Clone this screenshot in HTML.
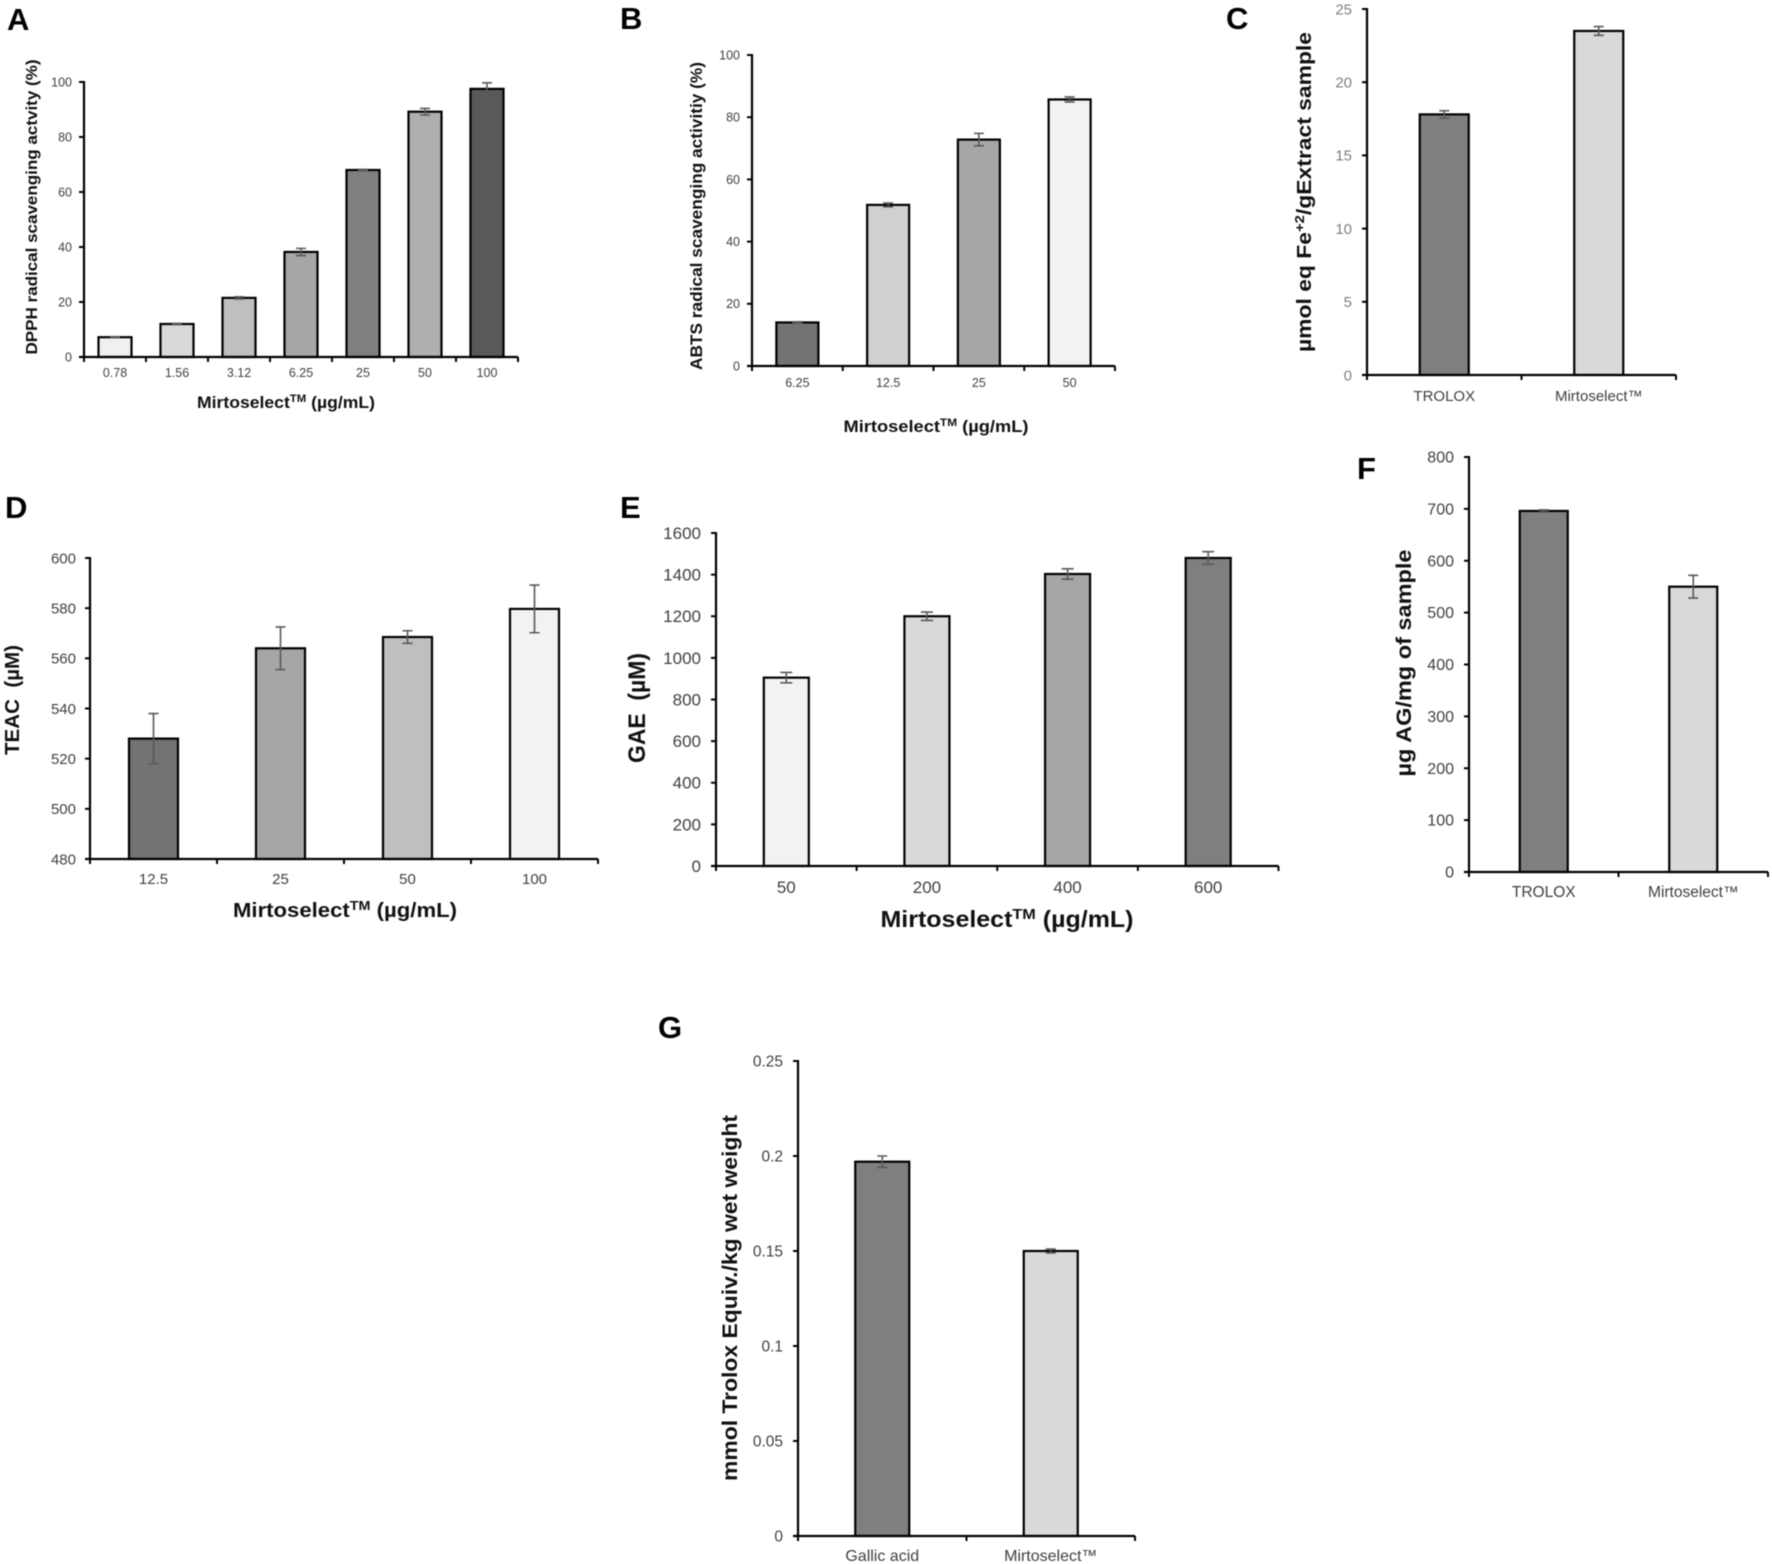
<!DOCTYPE html>
<html lang="en">
<head>
<meta charset="utf-8">
<title>Mirtoselect antioxidant assays</title>
<style>
html,body{margin:0;padding:0;background:#fff;width:1772px;height:1564px;overflow:hidden}
svg{display:block;font-family:"Liberation Sans",sans-serif;filter:blur(0.4px)}
</style>
</head>
<body>
<svg id="figure" xmlns="http://www.w3.org/2000/svg" width="1772" height="1564" viewBox="0 0 1772 1564"></svg>
<script>
// ---- Data ----
const aCategories = ['0.78', '1.56', '3.12', '6.25', '25', '50', '100'];
const aValues = [7.2, 12, 21.5, 38.2, 68, 89.2, 97.5];
const aErrors = [0.2, 0.2, 0.4, 1.3, 0.2, 1.2, 2.2];
const aTicks = [0, 20, 40, 60, 80, 100];
const aTickLabels = ['0', '20', '40', '60', '80', '100'];

const bCategories = ['6.25', '12.5', '25', '50'];
const bValues = [14, 51.8, 72.8, 85.7];
const bErrors = [0.2, 0.6, 2, 0.8];
const bTicks = [0, 20, 40, 60, 80, 100];
const bTickLabels = ['0', '20', '40', '60', '80', '100'];

const cCategories = ['TROLOX', 'Mirtoselect\u2122'];
const cValues = [17.8, 23.5];
const cErrors = [0.25, 0.3];
const cTicks = [0, 5, 10, 15, 20, 25];
const cTickLabels = ['0', '5', '10', '15', '20', '25'];

const dCategories = ['12.5', '25', '50', '100'];
const dValues = [528, 564, 568.5, 579.7];
const dErrors = [10, 8.5, 2.5, 9.5];
const dTicks = [480, 500, 520, 540, 560, 580, 600];
const dTickLabels = ['480', '500', '520', '540', '560', '580', '600'];

const eCategories = ['50', '200', '400', '600'];
const eValues = [905, 1200, 1403, 1480];
const eErrors = [25, 20, 25, 30];
const eTicks = [0, 200, 400, 600, 800, 1000, 1200, 1400, 1600];
const eTickLabels = ['0', '200', '400', '600', '800', '1000', '1200', '1400', '1600'];

const fCategories = ['TROLOX', 'Mirtoselect\u2122'];
const fValues = [696, 550];
const fErrors = [2, 22];
const fTicks = [0, 100, 200, 300, 400, 500, 600, 700, 800];
const fTickLabels = ['0', '100', '200', '300', '400', '500', '600', '700', '800'];

const gCategories = ['Gallic acid', 'Mirtoselect\u2122'];
const gValues = [0.197, 0.15];
const gErrors = [0.003, 0.001];
const gTicks = [0, 0.05, 0.1, 0.15, 0.2, 0.25];
const gTickLabels = ['0', '0.05', '0.1', '0.15', '0.2', '0.25'];

// ---- Layout and styling ----
const panels = [
  {id:'a', cats:aCategories, vals:aValues, errs:aErrors, ticks:aTicks, labels:aTickLabels,
   fills:['#f0f0f0','#d9d9d9','#bfbfbf','#a6a6a6','#7f7f7f','#afafaf','#595959'],
   x0:84, x1:518, y0:357, yT:82, barW:33, cap:5, tickFs:12.5, tickColor:'#404040', xLabY:377, gap:12,
   letter:'A', lx:7, ly:30,
   yTitle:'DPPH radical scavenging actvity (%)', ytx:37, ytc:207, ytl:295, ytf:16,
   xTitle:true, xtc:286, xty:408, xtl:178, xtf:17},
  {id:'b', cats:bCategories, vals:bValues, errs:bErrors, ticks:bTicks, labels:bTickLabels,
   fills:['#737373','#d0d0d0','#a6a6a6','#f2f2f2'],
   x0:752, x1:1115, y0:366, yT:55, barW:42, cap:5, tickFs:12.5, tickColor:'#404040', xLabY:387, gap:12,
   letter:'B', lx:620, ly:29,
   yTitle:'ABTS radical scavenging activitiy (%)', ytx:702, ytc:216, ytl:308, ytf:17,
   xTitle:true, xtc:936, xty:432, xtl:185, xtf:17},
  {id:'c', cats:cCategories, vals:cValues, errs:cErrors, ticks:cTicks, labels:cTickLabels,
   fills:['#7f7f7f','#d9d9d9'],
   x0:1367, x1:1676, y0:375, yT:9, barW:49, cap:5, tickFs:15, tickColor:'#7f7f7f', xLabFs:15, xLabColor:'#404040', xLabY:401, gap:15,
   letter:'C', lx:1226, ly:29,
   yTitle:'\u00b5mol eq Fe', yTitleSup:'+2', yTitleEnd:'/gExtract sample', ytx:1311, ytc:192, ytl:320, ytf:20},
  {id:'d', cats:dCategories, vals:dValues, errs:dErrors, ticks:dTicks, labels:dTickLabels,
   fills:['#737373','#a6a6a6','#bfbfbf','#f2f2f2'],
   x0:90, x1:598, y0:859, yT:558, barW:49, cap:5, tickFs:15, tickColor:'#404040', xLabY:884, gap:14,
   letter:'D', lx:5, ly:518,
   yTitle:'TEAC  (\u00b5M)', ytx:19, ytc:700, ytl:110, ytf:20,
   xTitle:true, xtc:345, xty:917, xtl:224, xtf:20},
  {id:'e', cats:eCategories, vals:eValues, errs:eErrors, ticks:eTicks, labels:eTickLabels,
   fills:['#f2f2f2','#d9d9d9','#a6a6a6','#7f7f7f'],
   x0:716, x1:1278.5, y0:866, yT:533, barW:45, cap:6, tickFs:17, tickColor:'#404040', xLabY:893, gap:15,
   letter:'E', lx:620, ly:518,
   yTitle:'GAE  (\u00b5M)', ytx:645, ytc:708, ytl:110, ytf:24,
   xTitle:true, xtc:1007, xty:927, xtl:253, xtf:23},
  {id:'f', cats:fCategories, vals:fValues, errs:fErrors, ticks:fTicks, labels:fTickLabels,
   fills:['#7f7f7f','#d9d9d9'],
   x0:1469, x1:1768, y0:872, yT:457, barW:48, cap:5, tickFs:16, tickColor:'#404040', xLabFs:15.5, xLabY:897, gap:15,
   letter:'F', lx:1357, ly:479,
   yTitle:'\u00b5g AG/mg of sample', ytx:1411, ytc:663, ytl:227, ytf:21},
  {id:'g', cats:gCategories, vals:gValues, errs:gErrors, ticks:gTicks, labels:gTickLabels,
   fills:['#7f7f7f','#d9d9d9'],
   x0:798, x1:1135, y0:1536, yT:1061, barW:54, cap:5, tickFs:15.5, tickColor:'#404040', xLabFs:16, xLabY:1561, gap:15,
   letter:'G', lx:658, ly:1038,
   yTitle:'mmol Trolox Equiv./kg wet weight', ytx:737, ytc:1298, ytl:366, ytf:21}
];

const NS = 'http://www.w3.org/2000/svg';
const svg = document.getElementById('figure');

function mk(tag, attrs, parent) {
  const el = document.createElementNS(NS, tag);
  for (const k in attrs) el.setAttribute(k, attrs[k]);
  parent.appendChild(el);
  return el;
}
function xScale(p, i) { return p.x0 + (i + 0.5) * (p.x1 - p.x0) / p.cats.length; }
function yScale(p, v) {
  const lo = p.ticks[0], hi = p.ticks[p.ticks.length - 1];
  return p.y0 - (v - lo) / (hi - lo) * (p.y0 - p.yT);
}

panels.forEach(function (p) {
  const g = mk('g', {}, svg);
  
  

  const letter = mk('text', {x:p.lx, y:p.ly, 'font-size':31, 'font-weight':'bold', fill:'#000'}, g);
  letter.textContent = p.letter;
  
  

  // bars
  p.vals.forEach(function (v, i) {
    const cx = xScale(p, i);
    const top = yScale(p, v);
    const bar = mk('rect', {x:cx - p.barW / 2, y:top, width:p.barW, height:p.y0 - top,
      fill:p.fills[i], stroke:'#000', 'stroke-width':2.2}, g);
    
    
  });

  // error bars
  p.vals.forEach(function (v, i) {
    const cx = xScale(p, i);
    const hi = yScale(p, v + p.errs[i]);
    const lo = yScale(p, v - p.errs[i]);
    const d = 'M' + (cx - p.cap) + ' ' + hi + 'H' + (cx + p.cap) +
              'M' + cx + ' ' + hi + 'V' + lo +
              'M' + (cx - p.cap) + ' ' + lo + 'H' + (cx + p.cap);
    const err = mk('path', {d:d, fill:'none', stroke:'#595959', 'stroke-width':1.6}, g);
    
    
  });

  // y axis
  const yAxis = mk('line', {x1:p.x0, x2:p.x0, y1:p.yT - 1, y2:p.y0 + 1, stroke:'#000', 'stroke-width':2.2}, g);
  
  
  p.ticks.forEach(function (t, i) {
    const y = yScale(p, t);
    const tick = mk('line', {x1:p.x0 - 5, x2:p.x0, y1:y, y2:y, stroke:'#000', 'stroke-width':2}, g);
    
    
    const lab = mk('text', {x:p.x0 - p.gap, y:y + p.tickFs * 0.35, 'font-size':p.tickFs,
      'text-anchor':'end', fill:p.tickColor}, g);
    lab.textContent = p.labels[i];
    
    
  });

  // x axis
  const xAxis = mk('line', {x1:p.x0 - 5, x2:p.x1, y1:p.y0, y2:p.y0, stroke:'#000', 'stroke-width':2.2}, g);
  
  
  for (let i = 0; i <= p.cats.length; i++) {
    const tx = p.x0 + i * (p.x1 - p.x0) / p.cats.length;
    const tick = mk('line', {x1:tx, x2:tx, y1:p.y0, y2:p.y0 + 5, stroke:'#000', 'stroke-width':2}, g);
    
    
  }
  p.cats.forEach(function (c, i) {
    const lab = mk('text', {x:xScale(p, i), y:p.xLabY, 'font-size':p.xLabFs || p.tickFs,
      'text-anchor':'middle', fill:p.xLabColor || p.tickColor}, g);
    lab.textContent = c;
    
    
  });

  // y title
  const yt = mk('text', {transform:'translate(' + p.ytx + ' ' + p.ytc + ') rotate(-90)',
    'font-size':p.ytf, 'font-weight':'bold', 'text-anchor':'middle', fill:'#111',
    textLength:p.ytl, lengthAdjust:'spacingAndGlyphs', style:'white-space:pre'}, g);
  
  
  yt.appendChild(document.createTextNode(p.yTitle));
  if (p.yTitleSup) {
    const sup = mk('tspan', {'baseline-shift':'super', 'font-size':p.ytf * 0.65}, yt);
    sup.textContent = p.yTitleSup;
    yt.appendChild(document.createTextNode(p.yTitleEnd));
  }

  // x title
  if (p.xTitle) {
    const xt = mk('text', {x:p.xtc, y:p.xty, 'font-size':p.xtf, 'font-weight':'bold', 'text-anchor':'middle',
      fill:'#111', textLength:p.xtl, lengthAdjust:'spacingAndGlyphs'}, g);
    
    
    xt.appendChild(document.createTextNode('Mirtoselect'));
    const tm = mk('tspan', {'baseline-shift':'super', 'font-size':p.xtf * 0.65}, xt);
    tm.textContent = 'TM';
    xt.appendChild(document.createTextNode(' (\u00b5g/mL)'));
  }
});
</script>
</body>
</html>
